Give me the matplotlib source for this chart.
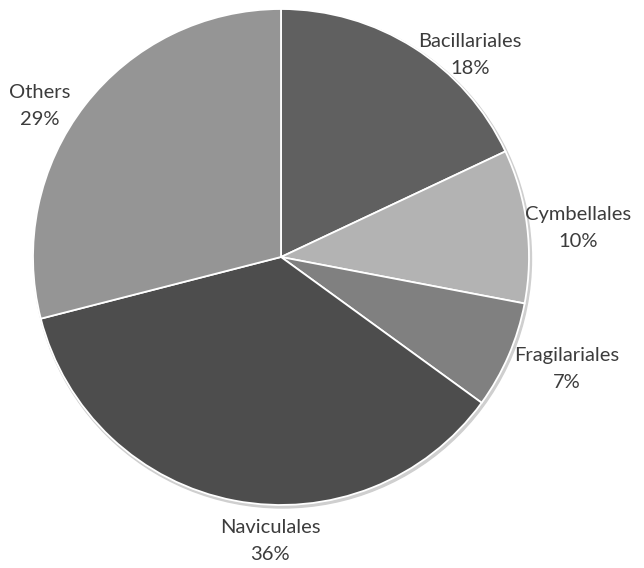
import matplotlib
matplotlib.use('Agg')
import matplotlib.pyplot as plt
from matplotlib.patches import Circle

# data
orders = ['Bacillariales', 'Cymbellales', 'Fragilariales', 'Naviculales', 'Others']
shares = [18, 10, 7, 36, 29]
colors = ['#606060', '#b3b3b3', '#808080', '#4d4d4d', '#959595']
# label centres in pixels (x from left, y from top)
label_px = [(470, 55), (578, 228), (567, 369), (270, 541), (40, 106)]

W, H = 644, 568
CX, CY, R = 281, 257, 248

fig = plt.figure(figsize=(W / 100, H / 100), dpi=100)
ax = fig.add_axes([0, 0, 1, 1])
ax.set_aspect('equal')
ax.axis('off')

# faint shadow under the rim
ax.add_patch(Circle((0.006, -0.008), 1.004, color='#cfcfcf', zorder=0))

ax.pie(shares, colors=colors, startangle=90, counterclock=False, radius=1,
       wedgeprops=dict(edgecolor='white', linewidth=1.3))
ax.set_xlim(-CX / R, (W - CX) / R)
ax.set_ylim(-(H - CY) / R, CY / R)

for name, val, (px, py) in zip(orders, shares, label_px):
    ax.text((px - CX) / R, (CY - py) / R, f'{name}\n{val}%', ha='center', va='center',
            fontsize=14.5, family='Lato', color='#3c3c3c', linespacing=1.65)

fig.savefig('out.png', dpi=100, facecolor='white')
